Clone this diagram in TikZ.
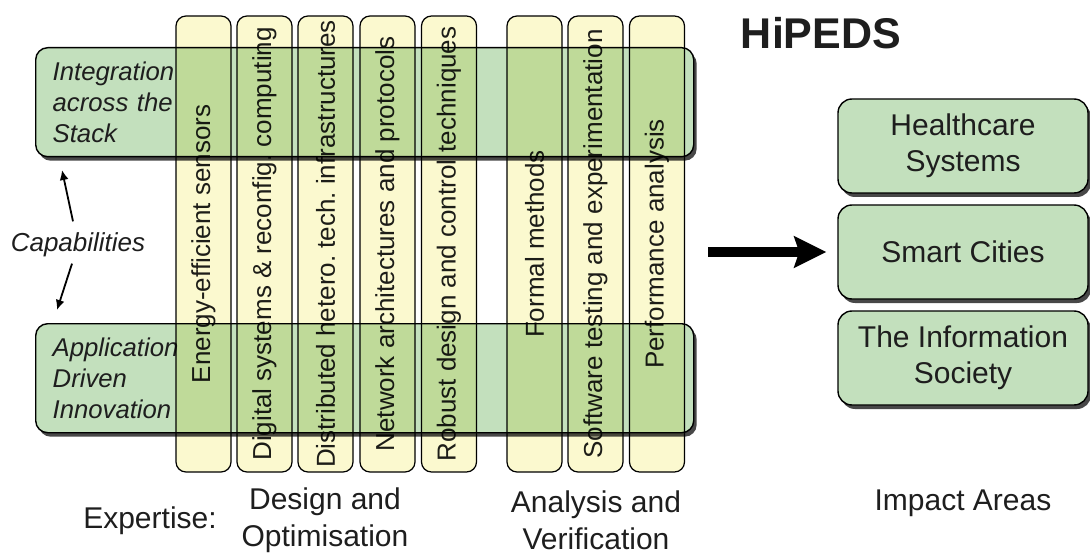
\documentclass[tikz,border=0pt]{standalone}
\usepackage{fontspec}
\setmainfont{Liberation Sans}
\usetikzlibrary{
    arrows.meta,
    positioning,
    shadows
}

\definecolor{barGreen}{RGB}{195,224,189}
\definecolor{colYellow}{RGB}{251,249,207}
\definecolor{shadowGray}{RGB}{72,72,72}
\definecolor{inkGray}{RGB}{30,30,30}

\begin{document}
\begin{tikzpicture}[
x=1pt, y=-1pt,
text=inkGray,
stackbar/.style={
draw,
line width=1.4pt,
rounded corners=12pt,
fill=barGreen,
drop shadow={shadow xshift=3pt, shadow yshift=-4pt, fill=shadowGray, opacity=1},
minimum width=658pt,
minimum height=109pt,
text width=624pt,
inner xsep=17pt,
align=left,
anchor=north west,
font=\fontsize{25.7}{31}\selectfont\itshape
},
colbox/.style={
draw,
line width=1.2pt,
rounded corners=10pt,
fill=colYellow,
rotate=90,
minimum width=456pt,
minimum height=55pt,
inner sep=0pt,
font=\fontsize{26}{30}\selectfont
},
impact/.style={
draw,
line width=1.4pt,
rounded corners=14pt,
fill=barGreen,
drop shadow={shadow xshift=3pt, shadow yshift=-4pt, fill=shadowGray, opacity=1},
minimum width=250pt,
minimum height=94pt,
align=center,
font=\fontsize{30}{36}\selectfont
},
groupLabel/.style={
align=center,
font=\fontsize{30}{37}\selectfont
},
capArrow/.style={
-{Latex[length=10pt,width=9pt]},
line width=1.8pt
}
]
\useasboundingbox (0,0) rectangle (1090,556);

% capability bars
\node[stackbar] (stack) at (35,47)
{Integration\\across the\\Stack};
\node[stackbar] (app) at (35,323)
{Application\\Driven\\Innovation};

% expertise columns
\begin{scope}[blend mode=multiply]
\foreach \cx/\txt [count=\i] in {
203.5/Energy-efficient sensors,
264.5/Digital systems \& reconfig.\ computing,
325.5/Distributed hetero.\ tech.\ infrastructures,
387.5/Network architectures and protocols,
449/Robust design and control techniques,
534.5/Formal methods,
595.5/Software testing and experimentation,
657/Performance analysis}
\node[colbox] (col\i) at (\cx,244) {\txt};
\end{scope}

\node[font=\fontsize{26}{30}\selectfont\itshape] (cap) at (78,245)
{Capabilities};
\coordinate (capUpTip) at (62,170);
\coordinate (capDownTip) at (57,310);
\draw[capArrow] ([xshift=-5pt,yshift=8pt]cap.north) -- (capUpTip);
\draw[capArrow] ([xshift=-6pt,yshift=-3pt]cap.south) -- (capDownTip);

% impact areas
\node[font=\fontsize{43}{47}\selectfont\bfseries] (title) at (821,33)
{HiPEDS};
\node[impact] (health) at (963,146)
{Healthcare\\Systems};
\node[impact] (smart) at (963,252)
{Smart Cities};
\node[impact] (info) at (963,358)
{The Information\\Society};

\coordinate (arrowTail) at (708,252);
\draw[-{Stealth[length=32pt,width=31pt,inset=5pt]}, line width=10pt]
(arrowTail) -- ([xshift=-11pt]smart.west);

% bottom captions
\node[groupLabel] (expertise) at (150,521) {Expertise:};
\node[groupLabel] (design) at (325,520) {Design and\\Optimisation};
\node[groupLabel] (analysis) at (596,520) {Analysis and\\Verification};
\node[groupLabel] (areas) at (963,503) {Impact Areas};

\end{tikzpicture}
\end{document}
